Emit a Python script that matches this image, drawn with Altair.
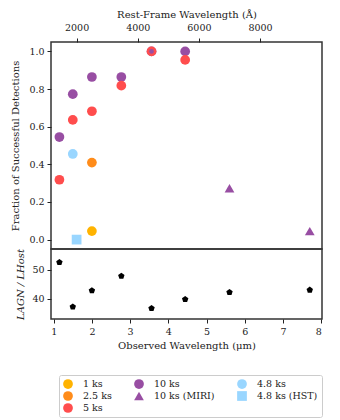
import altair as alt
import pandas as pd

FONT = "DejaVu Serif"

# ---- data ----
filters_um = [1.15, 1.50, 2.00, 2.77, 3.56, 4.44]
frac_10ks = [0.545, 0.773, 0.864, 0.864, 1.0, 1.0]
frac_5ks = [0.318, 0.636, 0.682, 0.818, 1.0, 0.955]
x_25ks = [2.00]
frac_25ks = [0.409]
x_1ks = [2.00]
frac_1ks = [0.045]
x_48ks = [1.50]
frac_48ks = [0.455]
x_hst = [1.60]
frac_hst = [0.0]
x_miri = [5.60, 7.70]
frac_miri = [0.273, 0.045]

ratio_x = [1.15, 1.50, 2.00, 2.77, 3.56, 4.44, 5.60, 7.70]
ratio_y = [52.6, 37.3, 42.9, 47.9, 36.8, 39.9, 42.3, 43.1]

redshift = 7
rest_ticks = [2000, 4000, 6000, 8000]
obs_ticks = [1, 2, 3, 4, 5, 6, 7, 8]

legend_order = ["1 ks", "10 ks", "4.8 ks", "2.5 ks", "10 ks (MIRI)", "4.8 ks (HST)", "5 ks"]
legend_colors = ["#FFB300", "#984EA3", "#99D6FF", "#FF8C1A", "#984EA3", "#99D6FF", "#FF4D4D"]
legend_shapes = ["circle", "circle", "circle", "circle", "triangle-up", "square", "circle"]

# ---- tables ----
rows = []
def add(xs, ys, lab):
    for a, b in zip(xs, ys):
        rows.append({"x": a, "y": b, "series": lab})

add(x_1ks, frac_1ks, "1 ks")
add(x_25ks, frac_25ks, "2.5 ks")
add(filters_um, frac_10ks, "10 ks")
add(filters_um, frac_5ks, "5 ks")
add(x_48ks, frac_48ks, "4.8 ks")
add(x_hst, frac_hst, "4.8 ks (HST)")
add(x_miri, frac_miri, "10 ks (MIRI)")
df = pd.DataFrame(rows)
draw_order = {"10 ks": 0, "5 ks": 1, "2.5 ks": 2, "1 ks": 3, "4.8 ks": 4, "4.8 ks (HST)": 5, "10 ks (MIRI)": 6}
df["order"] = df["series"].map(draw_order)

overlap = pd.DataFrame([{"x": a, "y": b} for a, b, c in zip(filters_um, frac_10ks, frac_5ks) if b == c])
ratio_df = pd.DataFrame({"x": ratio_x, "y": ratio_y})

xdom = [0.93, 8.02]
factor = 1e4 / (1 + redshift)
top_vals = [t / factor for t in rest_ticks]

axis_common = dict(
    labelFont=FONT, titleFont=FONT, labelFontSize=9.5, titleFontSize=10,
    labelColor="#222", titleColor="#222", titleFontWeight="normal",
    domain=False, grid=False, tickColor="#222", tickSize=4, tickWidth=1,
)

x_top = alt.X(
    "x:Q", scale=alt.Scale(domain=xdom, nice=False, zero=False),
    axis=alt.Axis(orient="top", values=top_vals,
                  labelExpr=f"format(round(datum.value*{factor}), 'd')",
                  title="Rest-Frame Wavelength (Å)", titlePadding=3, labelPadding=6,
                  **axis_common),
)

y_top = alt.Y(
    "y:Q", scale=alt.Scale(domain=[-0.05, 1.05], nice=False),
    axis=alt.Axis(values=[0, 0.2, 0.4, 0.6, 0.8, 1.0], format=".1f",
                  title="Fraction of Successful Detections", titlePadding=8, labelPadding=3,
                  **axis_common),
)

points = alt.Chart(df).mark_point(filled=True, opacity=1, size=95).encode(
    x=x_top,
    y=y_top,
    color=alt.Color("series:N",
                    scale=alt.Scale(domain=legend_order, range=legend_colors),
                    legend=alt.Legend(title=None, orient="none", legendX=8, legendY=333,
                                      values=legend_order, direction="horizontal",
                                      columns=3, columnPadding=22, rowPadding=2,
                                      labelFont=FONT, labelFontSize=9.5, labelColor="#222",
                                      symbolSize=95, symbolStrokeWidth=0, labelOffset=10,
                                      strokeColor="#cccccc", padding=4, cornerRadius=2,
                                      fillColor="white", symbolOpacity=1)),
    shape=alt.Shape("series:N",
                    scale=alt.Scale(domain=legend_order, range=legend_shapes)),
    order=alt.Order("order:Q"),
)

dots = alt.Chart(overlap).mark_point(filled=True, opacity=1, size=22, color="#984EA3").encode(
    x="x:Q", y="y:Q"
)

top = alt.layer(points, dots).properties(width=271, height=207)

pentagon = "M0,-1 L0.951,-0.309 L0.588,0.809 L-0.588,0.809 L-0.951,-0.309 Z"
bottom = alt.Chart(ratio_df).mark_point(filled=True, opacity=1, shape=pentagon, size=45, color="black").encode(
    x=alt.X("x:Q", scale=alt.Scale(domain=xdom, nice=False, zero=False),
            axis=alt.Axis(values=obs_ticks, title="Observed Wavelength (μm)", titlePadding=5,
                          labelPadding=3, **axis_common)),
    y=alt.Y("y:Q", scale=alt.Scale(domain=[33.1, 57.2], nice=False, zero=False),
            axis=alt.Axis(values=[40, 50], title="LAGN / LHost", titlePadding=6, labelPadding=3,
                          titleFontStyle="italic", **axis_common)),
).properties(width=271, height=70)

chart = alt.vconcat(top, bottom, spacing=0, bounds="flush").resolve_scale(x="independent").configure_view(
    stroke="#333", strokeWidth=1.5
).properties(padding={"left": 2, "top": 0, "right": 5, "bottom": 2})

chart.save("out.html", embed_options={"renderer": "svg", "actions": False})
